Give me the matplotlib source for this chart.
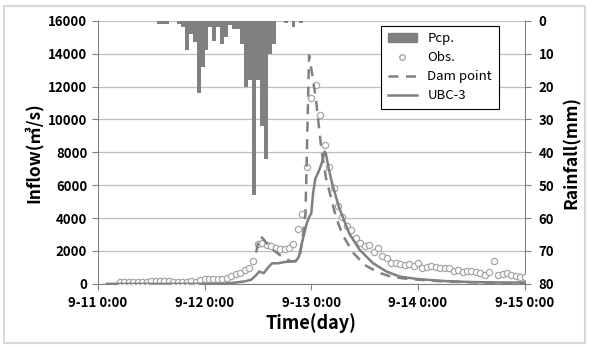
import matplotlib
matplotlib.use("Agg")
import matplotlib.pyplot as plt
from matplotlib.patches import Rectangle
from matplotlib.lines import Line2D
import numpy as np

# ---------------- data ----------------
# x axis in hours from 9-11 0:00
x_ticks = [0, 24, 48, 72, 96]
x_ticklabels = ["9-11 0:00", "9-12 0:00", "9-13 0:00", "9-14 0:00", "9-15 0:00"]

# rainfall (mm) per category on the secondary category axis (108 slots)
rain_n_slots = 108
rain_slots = [15, 16, 17, 20, 21, 22, 23, 24, 25, 26, 27, 28, 29, 30, 31, 32,
              33, 34, 35, 36, 37, 38, 39, 40, 41, 42, 43, 44, 47, 49, 51]
rain_mm = [1, 1, 1, 1, 2, 9, 4, 6.4, 22, 14, 9, 2, 6, 2, 7, 5,
           1.3, 2.5, 2.5, 7, 20, 18, 53, 18, 32, 42, 10, 7, 0.8, 2, 0.8]

# observed inflow (hourly)
obs_hours = list(range(5, 97))
obs_flow = [130, 130, 140, 140, 130, 130, 140, 150, 150, 160, 160, 150, 140, 120, 100, 90, 150, 130,
            250, 270, 280, 290, 300, 320, 380, 490, 590, 690, 850, 990,
            1410, 2400, 2500, 2370, 2300, 2160, 2100, 2120, 2200, 2400, 3330, 4240,
            7100, 11300, 12100, 10300,
            8420, 7100, 5800, 4730, 4040, 3510, 3270, 2770, 2500, 2300,
            2360, 1960, 2200, 1700, 1560, 1290, 1250, 1200, 1170, 1200,
            1090, 1250, 990, 1030, 1090, 1030, 950, 990, 950, 810,
            850, 750, 790, 810, 710, 650, 550, 730, 1390, 550,
            590, 690, 550, 485, 440, 440]

# Dam point simulation
dam_hours = [35.6, 36.3, 37.0, 38.0, 39.0, 40.9, 42.0, 43.5, 44.5, 45.5, 46.1, 46.7,
             47.5, 48.3, 49.1, 49.5, 50.3, 51.4, 52.1, 53.6, 55.1, 57.4, 60.0,
             63.0, 66.0, 70.0, 78.0, 86.0, 96.0]
dam_flow = [1900, 2850, 2800, 2450, 2150, 1760, 1560, 1350, 1400, 1800, 2870, 4280,
            13900, 12600, 11100, 10100, 8100, 6300, 5600, 4000, 2950, 1900, 1150,
            700, 430, 290, 140, 80, 40]

# UBC-3 simulation
ubc_hours = [2, 28, 30, 33, 34.5, 35.5, 36.3, 37.3, 38.3, 39.2, 40.5, 42, 44.5, 45.2,
             46, 46.9, 47.5, 48, 48.4, 48.9, 49.6, 50.3, 51, 51.3, 52, 52.7, 54.2,
             56.5, 58.9, 61.9, 64.9, 67.9, 72, 78, 84, 91, 96]
ubc_flow = [0, 0, 50, 150, 250, 500, 750, 650, 1000, 1250, 1250, 1330, 1370, 1650,
            2600, 3600, 4050, 4300, 5500, 6400, 6800, 7300, 8050, 7900, 6900, 6100, 4680,
            3070, 2060, 1250, 750, 440, 290, 170, 110, 80, 80]

# ---------------- figure ----------------
GRAY = "#808080"
GRID = "#bfbfbf"
FONT = ["Noto Sans CJK KR", "DejaVu Sans"]
plt.rcParams["font.family"] = FONT

fig = plt.figure(figsize=(5.89, 3.47), dpi=100)
fig.patches.append(Rectangle((0.007, 0.012), 0.986, 0.97, transform=fig.transFigure,
                             fill=False, edgecolor="#d9d9d9", lw=1.5))

ax2 = fig.add_axes([0.166, 0.182, 0.725, 0.758])   # rainfall axis (behind)
ax = fig.add_axes([0.166, 0.182, 0.725, 0.758], sharex=None)  # inflow axis (front)
ax.patch.set_visible(False)

# rain bars on their own category axis
ax2.bar([s + 0.5 for s in rain_slots], rain_mm, width=1.0, color=GRAY, zorder=2)
ax2.set_xlim(0, rain_n_slots)
ax2.set_ylim(80, 0)
ax2.set_yticks(range(0, 81, 10))
ax2.yaxis.tick_right()
ax2.yaxis.set_label_position("right")
ax2.set_xticks([])
ax2.grid(axis="y", color=GRID, lw=0.9, zorder=0)
ax2.set_axisbelow(True)
for s in ["top", "left", "bottom"]:
    ax2.spines[s].set_visible(False)
ax2.spines["right"].set_color(GRAY)
ax2.tick_params(axis="y", colors="black", length=4, color=GRAY, labelsize=9.5, pad=6)
for lab in ax2.get_yticklabels():
    lab.set_fontweight("bold")
ax2.set_ylabel("Rainfall(mm)", fontsize=12.5, fontweight="bold", labelpad=6)

# flows
ax.plot(obs_hours, obs_flow, linestyle="none", marker="o", markersize=4.5,
        markerfacecolor="white", markeredgecolor="#a6a6a6", markeredgewidth=0.9, zorder=3)
ax.plot(dam_hours, dam_flow, color=GRAY, lw=1.8, dashes=(4, 3), zorder=4)
ax.plot(ubc_hours, ubc_flow, color=GRAY, lw=1.8, zorder=5)

ax.set_xlim(0, 96)
ax.set_ylim(0, 16000)
ax.set_yticks(range(0, 16001, 2000))
ax.set_xticks(x_ticks)
ax.set_xticklabels(x_ticklabels)
for s in ["top", "right"]:
    ax.spines[s].set_visible(False)
ax.spines["left"].set_color(GRAY)
ax.spines["bottom"].set_color(GRAY)
ax.tick_params(axis="both", colors="black", length=4, color=GRAY, labelsize=9.5)
ax.tick_params(axis="x", pad=5)
for lab in ax.get_xticklabels() + ax.get_yticklabels():
    lab.set_fontweight("bold")
ax.set_ylabel("Inflow(㎥/s)", fontsize=12.5, fontweight="bold", labelpad=4)
ax.set_xlabel("Time(day)", fontsize=13, fontweight="bold", labelpad=2)

handles = [Rectangle((0, 0), 1, 1, color=GRAY),
           Line2D([], [], linestyle="none", marker="o", markersize=4,
                  markerfacecolor="white", markeredgecolor="#a6a6a6"),
           Line2D([], [], color=GRAY, lw=1.8, dashes=(4, 3)),
           Line2D([], [], color=GRAY, lw=1.8)]
leg = ax.legend(handles, ["Pcp.", "Obs.", "Dam point", "UBC-3"],
                loc="upper right", bbox_to_anchor=(0.939, 0.981), borderaxespad=0,
                fancybox=False, framealpha=1, edgecolor="black", fontsize=9.5,
                handlelength=2.2, labelspacing=0.45, borderpad=0.5)
leg.get_frame().set_linewidth(0.8)

fig.savefig("out.png", dpi=100)
